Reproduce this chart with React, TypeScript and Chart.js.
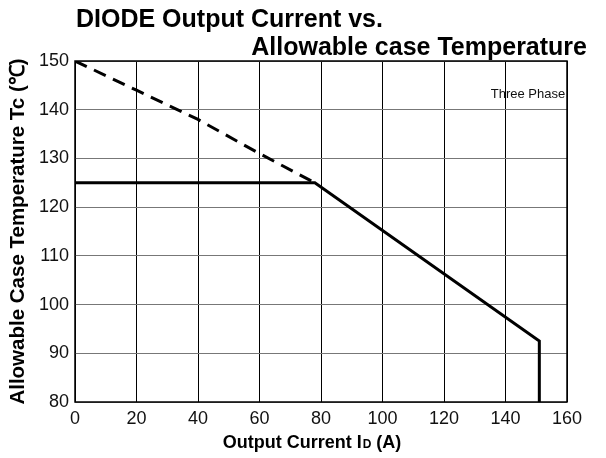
import React, { useEffect, useRef } from "react";
import { Chart, registerables } from "chart.js";

Chart.register(...registerables);

const dashedX = [0, 20, 40, 60, 78];
const dashedY = [150, 144, 138, 131, 125];
const solidX = [0, 78, 151, 151];
const solidY = [125, 125, 92.5, 80];
const xTicks = [0, 20, 40, 60, 80, 100, 120, 140, 160];
const yTicks = [80, 90, 100, 110, 120, 130, 140, 150];
const titleLine1 = "DIODE Output Current vs.";
const titleLine2 = "Allowable case Temperature";
const yTitle = "Allowable Case Temperature Tc (℃)";
const noteText = "Three Phase";

const FONT = "'Liberation Sans', Arial, Helvetica, sans-serif";

const decorPlugin = {
  id: "decor",
  afterDraw(chart: any) {
    const ctx = chart.ctx as CanvasRenderingContext2D;
    const a = chart.chartArea;
    ctx.save();
    // border
    ctx.strokeStyle = "#000";
    ctx.lineWidth = 1.5;
    ctx.strokeRect(a.left, a.top, a.right - a.left, a.bottom - a.top);
    // title
    ctx.fillStyle = "#000";
    ctx.font = `bold 25px ${FONT}`;
    ctx.textBaseline = "alphabetic";
    ctx.textAlign = "left";
    ctx.fillText(titleLine1, 76, 27);
    ctx.textAlign = "right";
    ctx.fillText(titleLine2, 587, 55);
    // y title
    ctx.save();
    ctx.translate(18, (a.top + a.bottom) / 2);
    ctx.rotate(-Math.PI / 2);
    ctx.textAlign = "center";
    ctx.textBaseline = "middle";
    ctx.font = `bold 20.5px ${FONT}`;
    ctx.fillText(yTitle, 0, 0);
    ctx.restore();
    // x title with subscript
    const p1 = "Output Current I";
    const p2 = "D";
    const p3 = " (A)";
    ctx.font = `bold 18px ${FONT}`;
    const w1 = ctx.measureText(p1).width;
    const w3 = ctx.measureText(p3).width;
    ctx.font = `bold 12px ${FONT}`;
    const w2 = ctx.measureText(p2).width + 1;
    const total = w1 + w2 + w3;
    const cx = 312;
    const x0 = cx - total / 2;
    const by = 448;
    ctx.textAlign = "left";
    ctx.textBaseline = "alphabetic";
    ctx.font = `bold 18px ${FONT}`;
    ctx.fillText(p1, x0, by);
    ctx.font = `bold 12px ${FONT}`;
    ctx.fillText(p2, x0 + w1 + 1, by);
    ctx.font = `bold 18px ${FONT}`;
    ctx.fillText(p3, x0 + w1 + w2, by);
    // note
    ctx.font = `13px ${FONT}`;
    ctx.textAlign = "center";
    ctx.textBaseline = "middle";
    ctx.fillStyle = "#111";
    ctx.fillText(noteText, 528, 94);
    ctx.restore();
  },
};

export default function App() {
  const ref = useRef<HTMLCanvasElement>(null);
  useEffect(() => {
    document.body.style.margin = "0";
    const canvas = ref.current!;
    const chart = new Chart(canvas, {
      type: "line",
      data: {
        datasets: [
          {
            label: "dashed",
            data: dashedX.map((x, i) => ({ x, y: dashedY[i] })),
            borderColor: "#000",
            borderWidth: 3,
            borderDash: [13, 8],
            pointRadius: 0,
            fill: false,
            tension: 0,
          },
          {
            label: "solid",
            data: solidX.map((x, i) => ({ x, y: solidY[i] })),
            borderColor: "#000",
            borderWidth: 3,
            pointRadius: 0,
            fill: false,
            tension: 0,
          },
        ],
      },
      options: {
        responsive: false,
        animation: false,
        layout: { padding: { top: 61, right: 39, left: 0, bottom: 0 } },
        plugins: {
          legend: { display: false },
          tooltip: { enabled: false },
          title: { display: false },
        },
        scales: {
          x: {
            type: "linear",
            min: 0,
            max: 160,
            afterFit: (s: any) => {
              s.height = 56;
            },
            afterBuildTicks: (s: any) => {
              s.ticks = xTicks.map((v) => ({ value: v }));
            },
            ticks: {
              color: "#111",
              font: { family: FONT, size: 18 },
              padding: 6,
              maxRotation: 0,
            },
            grid: { color: "#000", lineWidth: 1, drawTicks: false },
            border: { display: false },
          },
          y: {
            type: "linear",
            min: 80,
            max: 150,
            afterFit: (s: any) => {
              s.width = 75;
            },
            afterBuildTicks: (s: any) => {
              s.ticks = yTicks.map((v) => ({ value: v }));
            },
            ticks: {
              color: "#111",
              font: { family: FONT, size: 18 },
              padding: 6,
            },
            grid: { color: "#777", lineWidth: 1, drawTicks: false },
            border: { display: false },
          },
        },
      },
      plugins: [decorPlugin],
    });
    return () => chart.destroy();
  }, []);
  return (
    <canvas
      ref={ref}
      width={606}
      height={458}
      style={{ display: "block", width: 606, height: 458 }}
    />
  );
}
